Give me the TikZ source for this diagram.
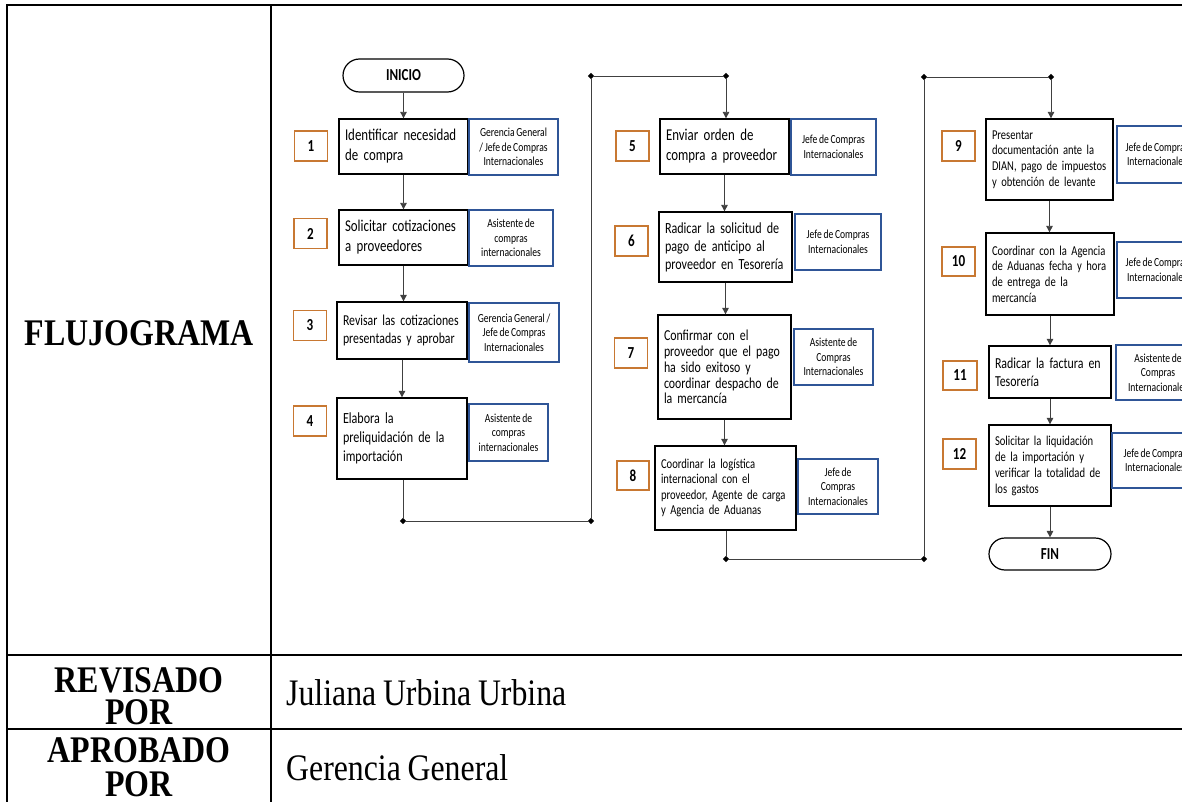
\documentclass[tikz,border=0pt]{standalone}
\usepackage{fontspec}
\setmainfont[FakeStretch=0.85,WordSpace=0.85]{Liberation Serif}
\newfontfamily\carl[FakeStretch=0.78,WordSpace=0.78]{Carlito}
\usetikzlibrary{arrows.meta,shapes.misc,shapes.geometric}
\definecolor{numorange}{HTML}{C87832}
\definecolor{roleblue}{HTML}{2F5597}
\tikzset{
  tbl/.style={line width=2.8pt, black},
  proc/.style={draw=black, line width=1.3pt, inner xsep=6pt, inner ysep=0pt, align=left},
  role/.style={draw=roleblue, line width=1.2pt, align=center, inner sep=0pt,
    font=\carl\fontsize{12.3}{14.5}\selectfont},
  num/.style={draw=numorange, line width=1.3pt, minimum width=33pt, minimum height=30pt,
    inner sep=0pt, font=\carl\bfseries\fontsize{16.8}{18}\selectfont},
  term/.style={rounded rectangle, draw=black, line width=1.2pt, minimum width=121pt,
    minimum height=33pt, inner sep=0pt, font=\carl\bfseries\fontsize{16.8}{18}\selectfont},
  dot/.style={diamond, fill=black, inner sep=0pt, minimum size=6.5pt},
  conn/.style={draw=black!75, line width=0.9pt},
  arr/.style={conn, -{Triangle[width=6.5pt,length=6.5pt]}},
  hdr/.style={font=\bfseries\fontsize{37.6}{32}\selectfont, inner sep=0pt},
  hdrl/.style={hdr, anchor=base},
  val/.style={font=\fontsize{37.4}{34}\selectfont, anchor=base west, inner sep=0pt}
}
\begin{document}
\begin{tikzpicture}[x=1pt,y=-1pt]
\useasboundingbox (0,0) rectangle (1182,802);
\clip (0,0) rectangle (1182,802);
\fill[white] (0,0) rectangle (1182,802);
% table
\draw[tbl] (7,803) -- (7,5) -- (1190,5);
\draw[tbl] (271,5) -- (271,803);
\draw[tbl] (7,655) -- (1190,655);
\draw[tbl] (7,729) -- (1190,729);
\node[hdr] (flu) at (139,333) {FLUJOGRAMA};
\node[hdrl] (rev1) at (139,692.5) {REVISADO};
\node[hdrl] (rev2) at (139,724.5) {POR};
\node[hdrl] (apr1) at (139,762) {APROBADO};
\node[hdrl] (apr2) at (139,796) {POR};
\node[val] (jul) at (286,705) {Juliana Urbina Urbina};
\node[val] (ger) at (286,780) {Gerencia General};
% terminals
\node[term] (ini) at (403.5,75.5) {INICIO};
\node[term, minimum width=122pt, minimum height=32pt] (fin) at (1050,554) {FIN};
% process boxes
\node[proc, text width=117pt, minimum height=55pt, font=\carl\fontsize{16.5}{20}\selectfont] (b1) at (403.5,146.5) {Identificar necesidad\\de compra};
\node[proc, text width=117pt, minimum height=55pt, font=\carl\fontsize{16.5}{20}\selectfont] (b2) at (403.5,237.5) {Solicitar cotizaciones\\a proveedores};
\node[proc, text width=118pt, minimum height=57pt, font=\carl\fontsize{15.1}{17.3}\selectfont] (b3) at (402,330.5) {Revisar las cotizaciones\\presentadas y aprobar};
\node[proc, text width=118pt, minimum height=81pt, font=\carl\fontsize{15.5}{18.8}\selectfont] (b4) at (402,438.5) {Elabora la\\preliquidación de la\\importación};
\node[proc, text width=117pt, minimum height=55pt, font=\carl\fontsize{16.5}{20}\selectfont] (b5) at (724.5,146.5) {Enviar orden de\\compra a proveedor};
\node[proc, text width=121pt, minimum height=70pt, font=\carl\fontsize{15.5}{18}\selectfont] (b6) at (725.5,247) {Radicar la solicitud de\\pago de anticipo al\\proveedor en Tesorería};
\node[proc, text width=121pt, minimum height=104pt, font=\carl\fontsize{15.2}{15.8}\selectfont] (b7) at (724.5,367) {Confirmar con el\\proveedor que el pago\\ha sido exitoso y\\coordinar despacho de\\la mercancía};
\node[proc, text width=129pt, minimum height=84pt, font=\carl\fontsize{13.6}{15.3}\selectfont] (b8) at (725.5,488) {Coordinar la logística\\internacional con el\\proveedor, Agente de carga\\y Agencia de Aduanas};
\node[proc, text width=115pt, minimum height=81pt, font=\carl\fontsize{13.5}{15.7}\selectfont] (b9) at (1049.5,159.5) {Presentar\\documentación ante la\\DIAN, pago de impuestos\\y obtención de levante};
\node[proc, text width=116pt, minimum height=82pt, font=\carl\fontsize{13.6}{15.7}\selectfont] (b10) at (1050,274) {Coordinar con la Agencia\\de Aduanas fecha y hora\\de entrega de la\\mercancía};
\node[proc, text width=110pt, minimum height=52pt, font=\carl\fontsize{15.25}{18.3}\selectfont] (b11) at (1050,372) {Radicar la factura en\\Tesorería};
\node[proc, text width=110pt, minimum height=81pt, font=\carl\fontsize{13.6}{16}\selectfont] (b12) at (1050,465.5) {Solicitar la liquidación\\de la importación y\\verificar la totalidad de\\los gastos};
% role boxes
\node[role, minimum width=89pt, minimum height=56pt] (r1) at (513.5,147) {Gerencia General\\/ Jefe de Compras\\Internacionales};
\node[role, minimum width=84pt, minimum height=56pt] (r2) at (511,238) {Asistente de\\compras\\internacionales};
\node[role, minimum width=90pt, minimum height=59pt] (r3) at (514,332.5) {Gerencia General /\\Jefe de Compras\\Internacionales};
\node[role, minimum width=79pt, minimum height=57pt] (r4) at (508.5,432.5) {Asistente de\\compras\\internacionales};
\node[role, minimum width=85pt, minimum height=56pt] (r5) at (833.5,147) {Jefe de Compras\\Internacionales};
\node[role, minimum width=86pt, minimum height=56pt] (r6) at (838,242) {Jefe de Compras\\Internacionales};
\node[role, minimum width=79pt, minimum height=56pt] (r7) at (833.5,357) {Asistente de\\Compras\\Internacionales};
\node[role, minimum width=80pt, minimum height=55pt] (r8) at (838,486.5) {Jefe de\\Compras\\Internacionales};
\node[role, minimum width=80pt, minimum height=57pt] (r9) at (1157,154.5) {Jefe de Compras\\Internacionales};
\node[role, minimum width=80pt, minimum height=56pt] (r10) at (1157,270) {Jefe de Compras\\Internacionales};
\node[role, minimum width=84pt, minimum height=55pt] (r11) at (1158,372.5) {Asistente de\\Compras\\Internacionales};
\node[role, minimum width=86pt, minimum height=55pt] (r12) at (1155,460.5) {Jefe de Compras\\Internacionales};
% number boxes
\node[num] (n1) at (311,146) {1};
\node[num] (n2) at (310.5,233.5) {2};
\node[num] (n3) at (310,325.5) {3};
\node[num] (n4) at (310,421) {4};
\node[num] (n5) at (632.5,146) {5};
\node[num] (n6) at (631.5,241) {6};
\node[num] (n7) at (631,353) {7};
\node[num, minimum width=32pt, minimum height=29pt] (n8) at (633,475.5) {8};
\node[num] (n9) at (958.5,146) {9};
\node[num, minimum height=29pt] (n10) at (958.5,261.5) {10};
\node[num, minimum width=34pt, minimum height=29pt] (n11) at (960,375.5) {11};
\node[num] (n12) at (959.5,454) {12};
% junction dots
\node[dot] (d1) at (403,521) {};
\node[dot] (d2) at (591,521) {};
\node[dot] (d3) at (591,76) {};
\node[dot] (d4) at (726,76) {};
\node[dot] (d5) at (726,559) {};
\node[dot] (d6) at (924,559) {};
\node[dot] (d7) at (924,77) {};
\node[dot] (d8) at (1051,77) {};
% connectors
\draw[arr] (ini.south) -- (ini.south |- b1.north);
\draw[arr] (b1.south) -- (b1.south |- b2.north);
\draw[arr] (b2.south) -- (b2.south |- b3.north);
\draw[arr] (b3.south) -- (b3.south |- b4.north);
\draw[conn] (b4.south -| d1) -- (d1);
\draw[conn] (d1) -- (d2);
\draw[conn] (d2) -- (d3);
\draw[conn] (d3) -- (d4);
\draw[arr] (d4) -- (d4 |- b5.north);
\draw[arr] (b5.south) -- (b5.south |- b6.north);
\draw[arr] (b6.south) -- (b6.south |- b7.north);
\draw[arr] (b7.south) -- (b7.south |- b8.north);
\draw[conn] (b8.south -| d5) -- (d5);
\draw[conn] (d5) -- (d6);
\draw[conn] (d6) -- (d7);
\draw[conn] (d7) -- (d8);
\draw[arr] (d8) -- (d8 |- b9.north);
\draw[arr] (b9.south) -- (b9.south |- b10.north);
\draw[arr] (b10.south) -- (b10.south |- b11.north);
\draw[arr] (b11.south) -- (b11.south |- b12.north);
\draw[arr] (b12.south) -- (b12.south |- fin.north);
\end{tikzpicture}
\end{document}
